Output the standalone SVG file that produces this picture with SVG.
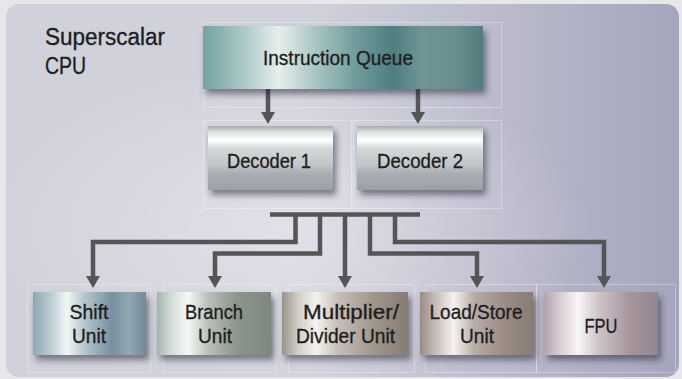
<svg xmlns="http://www.w3.org/2000/svg" width="682" height="379" viewBox="0 0 682 379">
<defs>
<linearGradient id="panel" x1="0" y1="0" x2="1" y2="0">
<stop offset="0" stop-color="#d0d1da"/>
<stop offset="0.45" stop-color="#d0d1db"/>
<stop offset="0.75" stop-color="#b9b9cb"/>
<stop offset="1" stop-color="#a5a5bb"/>
</linearGradient>
<radialGradient id="glow" cx="0.42" cy="0.6" r="0.45">
<stop offset="0" stop-color="#ffffff" stop-opacity="0.35"/>
<stop offset="1" stop-color="#ffffff" stop-opacity="0"/>
</radialGradient>
<linearGradient id="gIQ" x1="0" y1="0" x2="1" y2="0">
<stop offset="0" stop-color="#74a2a2"/>
<stop offset="0.14" stop-color="#a9c7c6"/>
<stop offset="0.27" stop-color="#e6efec"/>
<stop offset="0.4" stop-color="#a9c6c5"/>
<stop offset="0.55" stop-color="#6f9b9b"/>
<stop offset="0.68" stop-color="#4e7f80"/>
<stop offset="0.78" stop-color="#6f9494"/>
<stop offset="0.9" stop-color="#6a8f8f"/>
<stop offset="1" stop-color="#517c7d"/>
</linearGradient>
<linearGradient id="gDec" x1="0" y1="0" x2="0" y2="1">
<stop offset="0" stop-color="#a8abae"/>
<stop offset="0.1" stop-color="#dfe2e2"/>
<stop offset="0.22" stop-color="#ffffff"/>
<stop offset="0.35" stop-color="#d6d9da"/>
<stop offset="0.6" stop-color="#c2c6c8"/>
<stop offset="0.75" stop-color="#a9adb2"/>
<stop offset="1" stop-color="#9ca0a6"/>
</linearGradient>
<linearGradient id="gShift" x1="0" y1="0" x2="1" y2="0">
<stop offset="0" stop-color="#8ea8b3"/>
<stop offset="0.15" stop-color="#b8cad2"/>
<stop offset="0.3" stop-color="#f2f6f7"/>
<stop offset="0.45" stop-color="#b6c7cf"/>
<stop offset="0.7" stop-color="#7790a0"/>
<stop offset="0.85" stop-color="#91a8b2"/>
<stop offset="1" stop-color="#74899a"/>
</linearGradient>
<linearGradient id="gBranch" x1="0" y1="0" x2="1" y2="0">
<stop offset="0" stop-color="#a5b4ad"/>
<stop offset="0.12" stop-color="#d2dbd6"/>
<stop offset="0.27" stop-color="#f6f8f6"/>
<stop offset="0.45" stop-color="#b8c0ba"/>
<stop offset="0.7" stop-color="#8c968c"/>
<stop offset="1" stop-color="#7c877e"/>
</linearGradient>
<linearGradient id="gMul" x1="0" y1="0" x2="1" y2="0">
<stop offset="0" stop-color="#99928a"/>
<stop offset="0.12" stop-color="#cfcac4"/>
<stop offset="0.27" stop-color="#f4f2ef"/>
<stop offset="0.45" stop-color="#c6beb6"/>
<stop offset="0.72" stop-color="#a0978e"/>
<stop offset="1" stop-color="#877c73"/>
</linearGradient>
<linearGradient id="gLS" x1="0" y1="0" x2="1" y2="0">
<stop offset="0" stop-color="#9a8e86"/>
<stop offset="0.14" stop-color="#c8beb8"/>
<stop offset="0.3" stop-color="#f5f2f0"/>
<stop offset="0.48" stop-color="#b8aca4"/>
<stop offset="0.75" stop-color="#9a8c84"/>
<stop offset="1" stop-color="#887c76"/>
</linearGradient>
<linearGradient id="gFPU" x1="0" y1="0" x2="1" y2="0">
<stop offset="0" stop-color="#b3a3ab"/>
<stop offset="0.14" stop-color="#d8ced2"/>
<stop offset="0.3" stop-color="#f8f5f6"/>
<stop offset="0.48" stop-color="#cfc3c9"/>
<stop offset="0.75" stop-color="#a7959d"/>
<stop offset="1" stop-color="#92868e"/>
</linearGradient>
<filter id="shadow" x="-10%" y="-20%" width="130%" height="160%">
<feDropShadow dx="3" dy="5" stdDeviation="3" flood-color="#2a2a3a" flood-opacity="0.55"/>
</filter>
<marker id="arrow" viewBox="0 0 12 14" refX="6" refY="7" markerWidth="12" markerHeight="14" markerUnits="userSpaceOnUse" orient="auto">
<path d="M0,0 L12,7 L0,14 Z" fill="#555558"/>
</marker>
<style>
.lbl{font-family:"Liberation Sans",Arial,sans-serif;font-size:21px;fill:#1e1e22;stroke:#1e1e22;stroke-width:0.35;text-anchor:middle}
.title{font-family:"Liberation Sans",Arial,sans-serif;font-size:23px;fill:#1e1e22;stroke:#1e1e22;stroke-width:0.35}
.frame{fill:none;stroke:#ffffff;stroke-opacity:0.3;stroke-width:1}
.conn{fill:none;stroke:#555558;stroke-width:4.5;stroke-linejoin:miter}
.box{filter:url(#shadow)}
</style>
</defs>
<rect x="0" y="0" width="682" height="379" fill="#e7e7e9"/>
<rect x="6" y="4" width="673" height="373" rx="13" fill="url(#panel)"/>
<rect x="6" y="4" width="673" height="373" rx="13" fill="url(#glow)"/>
<g id="title">
<text class="title" x="45" y="45" textLength="120" lengthAdjust="spacingAndGlyphs">Superscalar</text>
<text class="title" x="45" y="74" textLength="41" lengthAdjust="spacingAndGlyphs">CPU</text>
</g>
<g id="frames">
<rect class="frame" x="203.5" y="22.5" width="298" height="85"/>
<rect class="frame" x="203.5" y="120.5" width="148" height="88"/>
<rect class="frame" x="353.5" y="120.5" width="148" height="88"/>
<rect class="frame" x="27.5" y="284.5" width="123" height="88"/>
<rect class="frame" x="163.5" y="284.5" width="112" height="88"/>
<rect class="frame" x="288.5" y="284.5" width="126" height="88"/>
<rect class="frame" x="425.5" y="284.5" width="111" height="88"/>
<rect class="frame" x="536.5" y="284.5" width="139" height="88"/>
</g>
<g id="connectors">
<path class="conn" d="M268,89 V118" marker-end="url(#arrow)"/>
<path class="conn" d="M418,89 V118" marker-end="url(#arrow)"/>
<path class="conn" d="M270,214.5 H420" stroke-width="5"/>
<path class="conn" d="M295.5,214 V242 H93 V282" marker-end="url(#arrow)"/>
<path class="conn" d="M320,214 V253.5 H215 V282" marker-end="url(#arrow)"/>
<path class="conn" d="M345,214 V282" marker-end="url(#arrow)"/>
<path class="conn" d="M370,214 V253.5 H477 V282" marker-end="url(#arrow)"/>
<path class="conn" d="M395,214 V242 H604 V282" marker-end="url(#arrow)"/>
</g>
<g id="instruction-queue">
<rect class="box" x="203" y="26" width="280" height="63" fill="url(#gIQ)"/>
<text class="lbl" x="338" y="65" textLength="150" lengthAdjust="spacingAndGlyphs">Instruction Queue</text>
</g>
<g id="decoder-1">
<rect class="box" x="208" y="126" width="125" height="64" fill="url(#gDec)"/>
<text class="lbl" x="269" y="168" textLength="84" lengthAdjust="spacingAndGlyphs">Decoder 1</text>
</g>
<g id="decoder-2">
<rect class="box" x="357" y="126" width="126" height="64" fill="url(#gDec)"/>
<text class="lbl" x="420" y="168" textLength="86" lengthAdjust="spacingAndGlyphs">Decoder 2</text>
</g>
<g id="shift-unit">
<rect class="box" x="33" y="292" width="113" height="63" fill="url(#gShift)"/>
<text class="lbl" x="89" y="319" textLength="39" lengthAdjust="spacingAndGlyphs">Shift</text>
<text class="lbl" x="89" y="343" textLength="34" lengthAdjust="spacingAndGlyphs">Unit</text>
</g>
<g id="branch-unit">
<rect class="box" x="157" y="292" width="114" height="63" fill="url(#gBranch)"/>
<text class="lbl" x="214" y="319" textLength="58" lengthAdjust="spacingAndGlyphs">Branch</text>
<text class="lbl" x="215" y="343" textLength="34" lengthAdjust="spacingAndGlyphs">Unit</text>
</g>
<g id="multiplier-divider-unit">
<rect class="box" x="282" y="292" width="126" height="63" fill="url(#gMul)"/>
<text class="lbl" x="351" y="319" textLength="96" lengthAdjust="spacingAndGlyphs">Multiplier/</text>
<text class="lbl" x="345.5" y="343" textLength="99" lengthAdjust="spacingAndGlyphs">Divider Unit</text>
</g>
<g id="load-store-unit">
<rect class="box" x="420" y="292" width="113" height="63" fill="url(#gLS)"/>
<text class="lbl" x="476" y="319" textLength="93" lengthAdjust="spacingAndGlyphs">Load/Store</text>
<text class="lbl" x="477" y="343" textLength="34" lengthAdjust="spacingAndGlyphs">Unit</text>
</g>
<g id="fpu">
<rect class="box" x="544" y="292" width="114" height="63" fill="url(#gFPU)"/>
<text class="lbl" x="601" y="333" textLength="33" lengthAdjust="spacingAndGlyphs">FPU</text>
</g>
</svg>
